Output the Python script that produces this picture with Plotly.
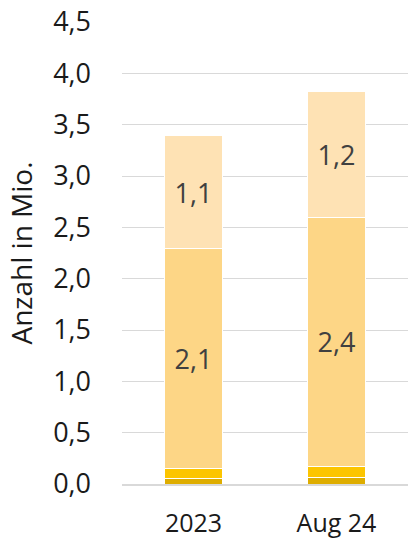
import plotly.graph_objects as go

categories = ["2023", "Aug 24"]
seg1 = [0.05, 0.06]
seg2 = [0.10, 0.11]
seg3 = [2.14, 2.43]
seg4 = [1.10, 1.22]
seg3_labels = ["2,1", "2,4"]
seg4_labels = ["1,1", "1,2"]
colors = ["#DEAD00", "#FCC500", "#FDD686", "#FEE2B4"]
tick_vals = [0, 0.5, 1, 1.5, 2, 2.5, 3, 3.5, 4, 4.5]

font_family = "Open Sans, Liberation Sans, sans-serif"
lbl_color = "#404040"
axis_color = "#1A1A1A"

fig = go.Figure()
for vals, col, labels in [(seg1, colors[0], None), (seg2, colors[1], None),
                          (seg3, colors[2], seg3_labels), (seg4, colors[3], seg4_labels)]:
    fig.add_trace(go.Bar(
        x=categories, y=vals, marker=dict(color=col, line=dict(color="white", width=1)),
        text=labels, textposition="inside" if labels else "none",
        insidetextanchor="middle", textangle=0,
        textfont=dict(size=27, color=lbl_color, family=font_family),
        showlegend=False, hoverinfo="skip"))

fig.update_layout(
    barmode="stack", bargap=0.6,
    width=408, height=541,
    margin=dict(l=122, r=0, t=22, b=57),
    plot_bgcolor="white", paper_bgcolor="white",
    separators=",.",
    font=dict(family=font_family, color=axis_color, size=20),
    uniformtext=dict(minsize=8, mode="show"),
)
fig.update_yaxes(
    range=[0, 4.5], tickvals=tick_vals, tickformat=".1f",
    showgrid=True, gridcolor="#D9D9D9", gridwidth=1.2, zeroline=False,
    showline=False, ticklabelstandoff=30,
    tickfont=dict(size=27, color=axis_color),
    title=dict(text="Anzahl in Mio.", font=dict(size=28, color=axis_color), standoff=12),
)
fig.update_xaxes(
    showline=True, linecolor="#D9D9D9", linewidth=2,
    tickfont=dict(size=25, color=axis_color), ticks="", ticklabelstandoff=16,
)
fig.write_html("out.html")
